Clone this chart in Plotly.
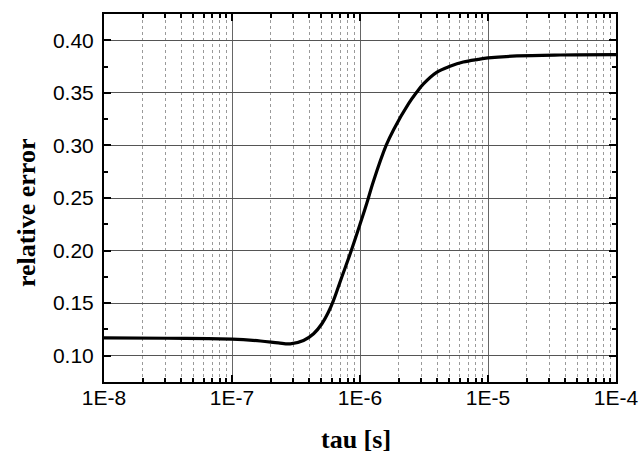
import plotly.graph_objects as go

# relaxation time tau [s] and the resulting relative error
tau = [1e-8, 3.16e-8, 1e-7, 1.67e-7, 2.3e-7, 2.85e-7, 3.62e-7, 4.34e-7,
       5.04e-7, 5.67e-7, 6.21e-7, 7.2e-7, 8.38e-7, 1.0e-6, 1.13e-6,
       1.27e-6, 1.60e-6, 1.83e-6, 2.39e-6, 2.77e-6, 3.13e-6, 3.97e-6,
       5.05e-6, 6.41e-6, 8.39e-6, 1.0e-5, 1.68e-5, 3.66e-5, 1.0e-4]
rel_error = [0.117, 0.1166, 0.1158, 0.1140, 0.1122, 0.1113, 0.1145, 0.1209,
             0.1304, 0.1415, 0.1526, 0.1747, 0.197, 0.225, 0.245,
             0.2655, 0.300, 0.315, 0.3395, 0.3505, 0.3585, 0.3695,
             0.3753, 0.3794, 0.3819, 0.3832, 0.3851, 0.3860, 0.3863]

x_tickvals = [1e-8, 1e-7, 1e-6, 1e-5, 1e-4]
x_ticktext = ["1E-8", "1E-7", "1E-6", "1E-5", "1E-4"]
x_minor = [k * 10.0 ** e for e in range(-8, -4) for k in range(2, 10)]
y_tickvals = [0.10, 0.15, 0.20, 0.25, 0.30, 0.35, 0.40]
y_ticktext = ["0.10", "0.15", "0.20", "0.25", "0.30", "0.35", "0.40"]

tick_font = dict(family="Liberation Sans, Arial, sans-serif", size=21, color="black")
title_font = dict(family="Liberation Serif, Times New Roman, serif", size=26, color="black")

fig = go.Figure()
fig.add_trace(go.Scatter(
    x=tau, y=rel_error, mode="lines",
    line=dict(color="black", width=3.2, shape="spline", smoothing=1.0),
    showlegend=False,
))

fig.update_layout(
    width=639, height=454,
    margin=dict(l=103.5, r=23, t=14, b=72.3),
    paper_bgcolor="white", plot_bgcolor="white",
    xaxis=dict(
        type="log", range=[-8, -4], automargin=False,
        tickvals=x_tickvals, ticktext=x_ticktext, tickfont=tick_font,
        ticks="inside", ticklen=7, tickwidth=1.5, tickcolor="black",
        ticklabelstandoff=-4,
        showgrid=True, gridcolor="#666666", gridwidth=1,
        minor=dict(tickvals=x_minor, ticks="inside", ticklen=4, tickcolor="black",
                   showgrid=True, gridcolor="#9a9a9a", griddash="dot", gridwidth=1),
        showline=True, linecolor="black", linewidth=2, mirror="allticks",
        zeroline=False,
    ),
    yaxis=dict(
        range=[0.075, 0.425], automargin=False,
        tickvals=y_tickvals, ticktext=y_ticktext, tickfont=tick_font,
        ticks="inside", ticklen=7, tickwidth=1.5, tickcolor="black",
        ticklabelstandoff=4,
        showgrid=True, gridcolor="#555555", gridwidth=1,
        minor=dict(dtick=0.025, tick0=0.075, ticks="inside", ticklen=4,
                   tickcolor="black", showgrid=False),
        showline=True, linecolor="black", linewidth=2, mirror="allticks",
        zeroline=False,
    ),
    annotations=[
        dict(text="<b>tau [s]</b>", font=title_font, showarrow=False,
             xref="paper", yref="paper", x=0.5, y=0,
             xanchor="center", yanchor="middle", xshift=-4, yshift=-57),
        dict(text="<b>relative error</b>", font=title_font, showarrow=False,
             textangle=-90, xref="paper", yref="paper", x=0, y=0.5,
             xanchor="center", yanchor="middle", xshift=-78, yshift=-15),
    ],
)

fig.write_html("out.html")
